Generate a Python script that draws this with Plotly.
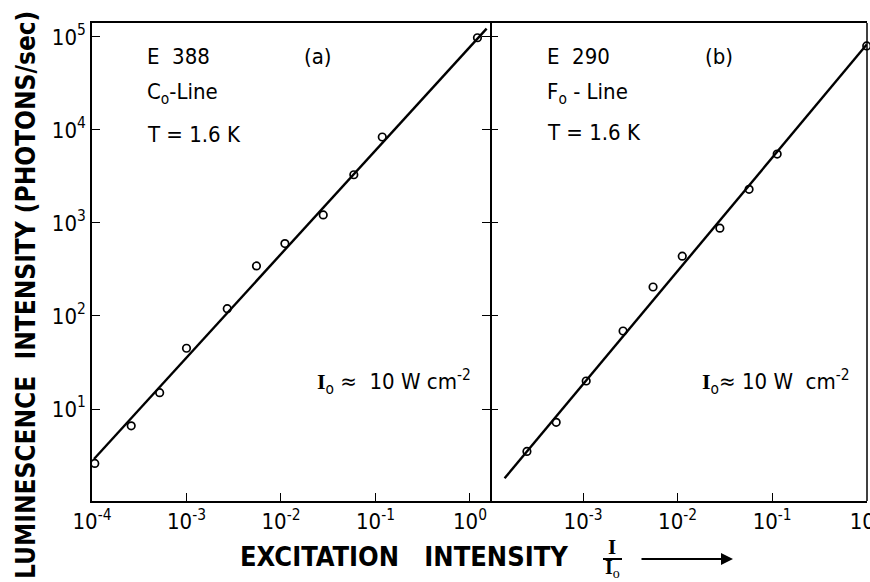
import plotly.graph_objects as go

# ---------------- data ----------------
a_x = [1.07e-4, 2.6e-4, 5.2e-4, 1.0e-3, 2.7e-3, 5.5e-3, 1.1e-2, 2.8e-2, 5.9e-2, 0.118, 1.2]
a_y = [2.6, 6.6, 15, 45, 120, 345, 600, 1220, 3300, 8400, 98000]
fit_a_x = [1.05e-4, 1.5]
fit_a_y = [2.9, 1.23e5]

b_x = [2.55e-4, 5.2e-4, 1.08e-3, 2.65e-3, 5.5e-3, 1.12e-2, 2.8e-2, 5.7e-2, 0.113, 1.0]
b_y = [3.5, 7.2, 20, 69, 205, 440, 880, 2300, 5500, 80000]
fit_b_x = [1.48e-4, 1.0]
fit_b_y = [1.8, 8.3e4]

x_tickvals_a = [1e-4, 1e-3, 1e-2, 1e-1, 1e0]
x_ticktext_a = ["10<sup>-4</sup>", "10<sup>-3</sup>", "10<sup>-2</sup>", "10<sup>-1</sup>", "10<sup>0</sup>"]
x_tickvals_b = [1e-3, 1e-2, 1e-1, 1e0]
x_ticktext_b = ["10<sup>-3</sup>", "10<sup>-2</sup>", "10<sup>-1</sup>", "10<sup>0</sup>"]
y_tickvals = [1e1, 1e2, 1e3, 1e4, 1e5]
y_ticktext = ["10<sup>1</sup>", "10<sup>2</sup>", "10<sup>3</sup>", "10<sup>4</sup>", "10<sup>5</sup>"]

# ---------------- layout helpers ----------------
FW, FH = 870, 582
L, R, T, B = 92, 867, 23, 501
W, H = R - L, B - T
SPLIT = (490 - L) / W
FONT = "DejaVu Sans Condensed"
SERIF = "Liberation Serif"


def px(x):
    return (x - L) / W


def py(y):
    return (B - y) / H


fig = go.Figure()

marker = dict(symbol="circle-open", size=7.5, color="black", line=dict(width=1.7, color="black"))
line = dict(color="black", width=2.4)

fig.add_trace(go.Scatter(x=fit_a_x, y=fit_a_y, mode="lines", line=line, xaxis="x", yaxis="y"))
fig.add_trace(go.Scatter(x=a_x, y=a_y, mode="markers", marker=marker, xaxis="x", yaxis="y", cliponaxis=False))
fig.add_trace(go.Scatter(x=fit_b_x, y=fit_b_y, mode="lines", line=line, xaxis="x2", yaxis="y2"))
fig.add_trace(go.Scatter(x=b_x, y=b_y, mode="markers", marker=marker, xaxis="x2", yaxis="y2", cliponaxis=False))

axis_common = dict(
    type="log", showgrid=False, zeroline=False, showline=True, linecolor="black", linewidth=1.5,
    ticks="inside", ticklen=8, tickwidth=1.4, tickcolor="black", automargin=False,
    tickfont=dict(family=FONT, size=22, color="black"),
)

fig.update_layout(
    width=FW, height=FH, autosize=False,
    margin=dict(l=L, r=FW - R, t=T, b=FH - B, pad=0, autoexpand=False),
    paper_bgcolor="white", plot_bgcolor="white",
    showlegend=False,
    xaxis=dict(axis_common, domain=[0, SPLIT], range=[-4.0, 0.212], anchor="y",
               tickvals=x_tickvals_a, ticktext=x_ticktext_a, mirror=True),
    xaxis2=dict(axis_common, domain=[SPLIT, 1], range=[-3.984, 0.003], anchor="y2",
                tickvals=x_tickvals_b, ticktext=x_ticktext_b, mirror=True,
                ticklabeloverflow="allow"),
    yaxis=dict(axis_common, domain=[0, 1], range=[0.011, 5.15], anchor="x",
               tickvals=y_tickvals, ticktext=y_ticktext, mirror="ticks"),
    yaxis2=dict(axis_common, domain=[0, 1], range=[0.011, 5.15], anchor="x2",
                tickvals=y_tickvals, showticklabels=False, showline=False),
)

ann = []


def text(x, y, s, size=22, xanchor="left", yanchor="middle", family=FONT, **kw):
    ann.append(dict(x=px(x), y=py(y), xref="paper", yref="paper", text=s, showarrow=False,
                    xanchor=xanchor, yanchor=yanchor,
                    font=dict(family=family, size=size, color="black"), **kw))


NB = "\u00a0"
I_SERIF = '<span style="font-family:Liberation Serif;font-weight:bold">I</span>'
# panel (a)
text(145, 56, "E" + NB + NB + "388")
text(318, 56, "(a)", xanchor="center")
text(145, 93, "C<sub>o</sub>-Line")
text(145, 134, "T = 1.6 K")
text(315, 382, I_SERIF + "<sub>o</sub>" + NB + "≈" + NB + NB + "10 W" + NB + "cm<sup>-2</sup>", size=22)
# panel (b)
text(545, 56, "E" + NB + NB + "290")
text(703, 56, "(b)")
text(545, 93, "F<sub>o</sub>" + NB + "-" + NB + "Line")
text(545, 132, "T = 1.6 K")
text(700, 382, I_SERIF + "<sub>o</sub>" + "≈" + NB + "10 W" + NB + NB + "cm<sup>-2</sup>", size=22)

# axis titles
text(26, 295, "<b>LUMINESCENCE" + NB + NB + "INTENSITY" + NB + "(PHOTONS/sec)</b>", size=26,
     xanchor="center", textangle=-90)
text(238, 556, "<b>EXCITATION" + NB + NB + NB + "INTENSITY</b>", size=27)
text(612, 547, "<b>I</b>", size=21, xanchor="center", family=SERIF)
text(612, 568, "<b>I</b><sub>o</sub>", size=20, xanchor="center", family=SERIF)

# arrow
ann.append(dict(x=px(733), y=py(559), ax=-93, ay=0, xref="paper", yref="paper",
                axref="pixel", ayref="pixel", text="", showarrow=True, arrowhead=2,
                arrowsize=1.2, arrowwidth=2, arrowcolor="black"))

fig.update_layout(annotations=ann)
fig.add_shape(type="line", xref="paper", yref="paper", x0=px(603), x1=px(622), y0=py(559), y1=py(559),
              line=dict(color="black", width=2))
# right border of panel (b)
fig.add_shape(type="line", xref="paper", yref="paper", x0=1, x1=1, y0=0, y1=1,
              line=dict(color="black", width=1.5))

fig.write_html("out.html", config={"displayModeBar": False},
               post_script="document.body.style.margin='0';")
